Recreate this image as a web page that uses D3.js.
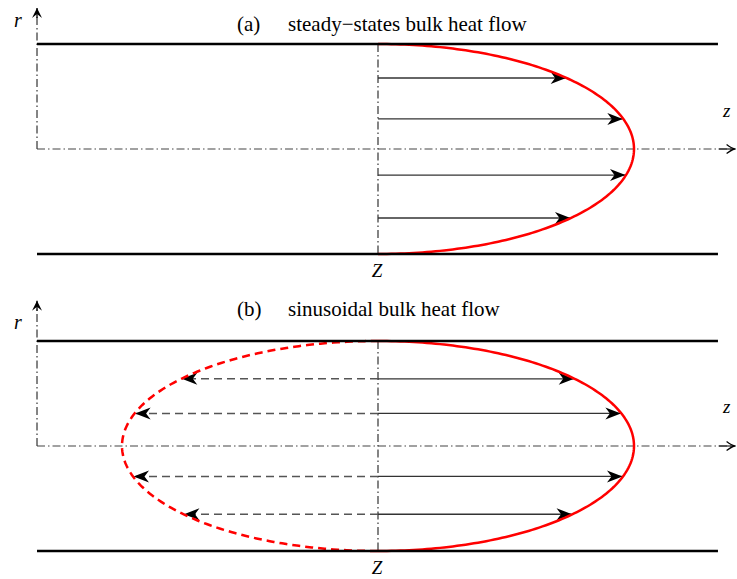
<!DOCTYPE html>
<html><head><meta charset="utf-8">
<script src="https://cdn.jsdelivr.net/npm/d3@7"></script>
<style>body{margin:0;background:#fff}</style>
</head><body>
<svg id="c" width="737" height="579"></svg>
<script>
// ---- data ----
const panelIds = ["a", "b"];
const panelLabels = ["(a)", "(b)"];
const panelTitles = ["steady\u2212states bulk heat flow", "sinusoidal bulk heat flow"];
const arrowR_a = [0.676, 0.286, -0.248, -0.657];   // r/R of flow arrows, panel (a)
const arrowR_b = [0.64, 0.31, -0.29, -0.65];       // r/R of flow arrows, panel (b)
const backwardFlow = [false, true];                 // panel has reverse (dashed) half
const wallZ = [-1.332, 1.328];                      // wall extent in z (units of amplitude)
const axisZEnd = 1.393;                             // z-axis arrow tip
const rAxisTop = [1.343, 1.384];                    // r-axis arrow tip (r/R)

const svg = d3.select("#c");
const defs = svg.append("defs");
defs.append("marker").attr("id","stealth").attr("markerUnits","userSpaceOnUse")
  .attr("viewBox","-17 -7 18 14").attr("refX",0).attr("refY",0)
  .attr("markerWidth",18).attr("markerHeight",14).attr("orient","auto")
  .append("path").attr("d","M0.5,0 L-15,-6 L-10.5,0 L-15,6 Z").attr("fill","#000");
defs.append("marker").attr("id","stealthS").attr("markerUnits","userSpaceOnUse")
  .attr("viewBox","-12 -6 13 12").attr("refX",0).attr("refY",0)
  .attr("markerWidth",13).attr("markerHeight",12).attr("orient","auto")
  .append("path").attr("d","M0,0 L-10,-5 L-6,0 L-10,5 Z").attr("fill","#000");
defs.append("marker").attr("id","open").attr("markerUnits","userSpaceOnUse")
  .attr("viewBox","-9 -6 10 12").attr("refX",0).attr("refY",0)
  .attr("markerWidth",10).attr("markerHeight",12).attr("orient","auto")
  .append("path").attr("d","M-8,-4.5 Q-3,-0.8 0,0 Q-3,0.8 -8,4.5")
  .attr("fill","none").attr("stroke","#000").attr("stroke-width",1.3);

const layout = [
  {top:44, bottom:254, titleY:31, rY:27, zY:117, ZY:277},
  {top:341, bottom:551, titleY:316, rY:329, zY:413, ZY:574}
];
const x = d3.scaleLinear().domain([-1, 1]).range([122, 634]);
const dashDot = "8,3,1.5,3";

panelIds.forEach((id, i) => {
  const L = layout[i];
  const y = d3.scaleLinear().domain([-1, 1]).range([L.bottom, L.top]);
  const g = svg.append("g").attr("id","panel-"+id);
  const arrows = i === 0 ? arrowR_a : arrowR_b;

  // Z station line
  g.append("line").attr("x1",x(0)).attr("x2",x(0)).attr("y1",y(1)).attr("y2",y(-1))
    .attr("stroke","#333").attr("stroke-width",1.2).attr("stroke-dasharray",dashDot);
  // centre line / z axis
  g.append("line").attr("x1",x(wallZ[0])).attr("x2",x(axisZEnd)-1).attr("y1",y(0)).attr("y2",y(0))
    .attr("stroke","#444").attr("stroke-width",1.2).attr("stroke-dasharray",dashDot);
  g.append("line").attr("x1",x(axisZEnd)-16).attr("x2",x(axisZEnd)).attr("y1",y(0)).attr("y2",y(0))
    .attr("stroke","#222").attr("stroke-width",1.2).attr("marker-end","url(#open)");
  // r axis
  g.append("line").attr("x1",x(wallZ[0])).attr("x2",x(wallZ[0])).attr("y1",y(0)).attr("y2",y(rAxisTop[i])+6)
    .attr("stroke","#333").attr("stroke-width",1.2).attr("stroke-dasharray",dashDot);
  g.append("line").attr("x1",x(wallZ[0])).attr("x2",x(wallZ[0])).attr("y1",y(rAxisTop[i])+10).attr("y2",y(rAxisTop[i]))
    .attr("stroke","#000").attr("stroke-width",1.3).attr("marker-end","url(#stealthS)");

  // forward arrows
  g.selectAll("line.fwd").data(arrows).join("line").attr("class","fwd")
    .attr("x1",x(0)).attr("y1",d=>y(d)).attr("y2",d=>y(d))
    .attr("x2",d=>x(Math.sqrt(1-d*d))-1)
    .attr("stroke","#333").attr("stroke-width",1.3).attr("marker-end","url(#stealth)");
  if (backwardFlow[i]) {
    g.selectAll("line.bwd").data(arrows).join("line").attr("class","bwd")
      .attr("x1",x(0)).attr("y1",d=>y(d)).attr("y2",d=>y(d))
      .attr("x2",d=>x(-Math.sqrt(1-d*d))+1)
      .attr("stroke","#555").attr("stroke-width",1.4).attr("stroke-dasharray","8,5")
      .attr("marker-end","url(#stealth)");
  }

  // velocity profile (ellipse)
  const th = d3.range(-90, 90.5, 1).map(a => a*Math.PI/180);
  const line = d3.line().x(t => x(Math.cos(t))).y(t => y(Math.sin(t)));
  g.append("path").attr("d",line(th)).attr("fill","none").attr("stroke","#f00").attr("stroke-width",2.5);
  if (backwardFlow[i]) {
    const line2 = d3.line().x(t => x(-Math.cos(t))).y(t => y(Math.sin(t)));
    g.append("path").attr("d",line2(th)).attr("fill","none").attr("stroke","#f00")
      .attr("stroke-width",2.5).attr("stroke-dasharray","8,5");
  }

  // walls
  [1, -1].forEach(r => g.append("line").attr("x1",x(wallZ[0])).attr("x2",x(wallZ[1]))
    .attr("y1",y(r)).attr("y2",y(r)).attr("stroke","#000").attr("stroke-width",2.6));

  // text
  const serif = "'Liberation Serif','Times New Roman',serif";
  g.append("text").attr("x",237).attr("y",L.titleY).attr("font-family",serif).attr("font-size",21).text(panelLabels[i]);
  g.append("text").attr("x",288).attr("y",L.titleY).attr("font-family",serif).attr("font-size",21).text(panelTitles[i]);
  g.append("text").attr("x",14).attr("y",L.rY).attr("font-family",serif).attr("font-style","italic").attr("font-size",20).text("r");
  g.append("text").attr("x",723).attr("y",L.zY).attr("font-family",serif).attr("font-style","italic").attr("font-size",19).text("z");
  g.append("text").attr("x",x(0)-1).attr("y",L.ZY).attr("text-anchor","middle").attr("font-family",serif).attr("font-style","italic").attr("font-size",19).text("Z");
});
</script>
</body></html>
